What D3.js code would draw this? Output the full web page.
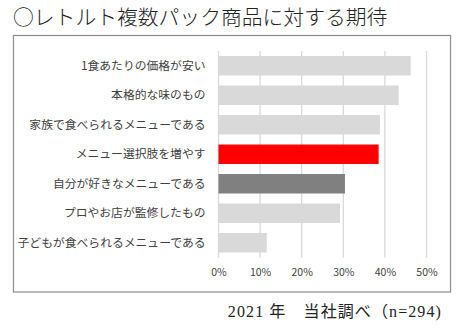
<!DOCTYPE html>
<html>
<head>
<meta charset="utf-8">
<script src="https://cdn.jsdelivr.net/npm/d3@7"></script>
<style>
  html, body { margin: 0; padding: 0; background: #fff; }
  svg { display: block; }
</style>
</head>
<body>
<svg id="chart" width="464" height="329"></svg>
<script>
// Survey items and share of respondents (%)
const categories = [
  "1食あたりの価格が安い",
  "本格的な味のもの",
  "家族で食べられるメニューである",
  "メニュー選択肢を増やす",
  "自分が好きなメニューである",
  "プロやお店が監修したもの",
  "子どもが食べられるメニューである"
];
const values = [46.2, 43.3, 38.8, 38.5, 30.4, 29.2, 11.6];
const barColors = ["#d9d9d9", "#d9d9d9", "#d9d9d9", "#ff0000", "#808080", "#d9d9d9", "#d9d9d9"];
const xTicks = [0, 10, 20, 30, 40, 50];

const titleText = "○レトルト複数パック商品に対する期待";
const sourceText = "2021 年　当社調べ（n=294)";

const svg = d3.select("#chart");

// Title
svg.append("text")
  .attr("x", 13)
  .attr("y", 25)
  .attr("font-family", "'Noto Sans CJK JP', sans-serif")
  .attr("font-size", 20.8)
  .attr("font-weight", 300)
  .attr("fill", "#222")
  .text(titleText);

// Frame around the chart
svg.append("rect")
  .attr("x", 13.5).attr("y", 35.5)
  .attr("width", 437).attr("height", 256.5)
  .attr("fill", "none")
  .attr("stroke", "#8c8c8c")
  .attr("stroke-width", 1.2);

const plot = { left: 218.5, top: 51, bottom: 257.5 };

const x = d3.scaleLinear().domain([0, 50]).range([plot.left, 426.5]);
const y = d3.scaleBand()
  .domain(categories)
  .range([plot.top, plot.bottom])
  .paddingInner(0.34)
  .paddingOuter(0.17);

// Vertical gridlines
svg.append("g")
  .selectAll("line")
  .data(xTicks)
  .join("line")
  .attr("x1", d => x(d)).attr("x2", d => x(d))
  .attr("y1", plot.top).attr("y2", plot.bottom)
  .attr("stroke", "#d9d9d9")
  .attr("stroke-width", 1.3);

// Bars
svg.append("g")
  .selectAll("rect")
  .data(values)
  .join("rect")
  .attr("x", x(0))
  .attr("y", (d, i) => y(categories[i]))
  .attr("width", d => x(d) - x(0))
  .attr("height", y.bandwidth())
  .attr("fill", (d, i) => barColors[i]);

// Category axis (labels only)
const yAxis = svg.append("g")
  .attr("transform", `translate(${plot.left},0)`)
  .call(d3.axisLeft(y).tickSize(0).tickPadding(13));
yAxis.select(".domain").remove();
yAxis.selectAll("text")
  .attr("font-family", "'Noto Sans CJK JP', sans-serif")
  .attr("font-size", 11.8)
  .attr("fill", "#404040");

// Value axis (labels only)
const xAxis = svg.append("g")
  .attr("transform", `translate(0,${plot.bottom})`)
  .call(d3.axisBottom(x).tickValues(xTicks).tickFormat(d => d + "%").tickSize(0).tickPadding(11));
xAxis.select(".domain").remove();
xAxis.selectAll("text")
  .attr("font-family", "'Noto Sans CJK JP', sans-serif")
  .attr("font-size", 10.5)
  .attr("fill", "#404040");

// Source note
svg.append("text")
  .attr("x", 442)
  .attr("y", 317)
  .attr("text-anchor", "end")
  .attr("font-family", "'Liberation Serif', 'Noto Sans CJK JP', serif")
  .attr("font-size", 16)
  .attr("letter-spacing", 1.1)
  .attr("fill", "#222")
  .text(sourceText);
</script>
</body>
</html>
